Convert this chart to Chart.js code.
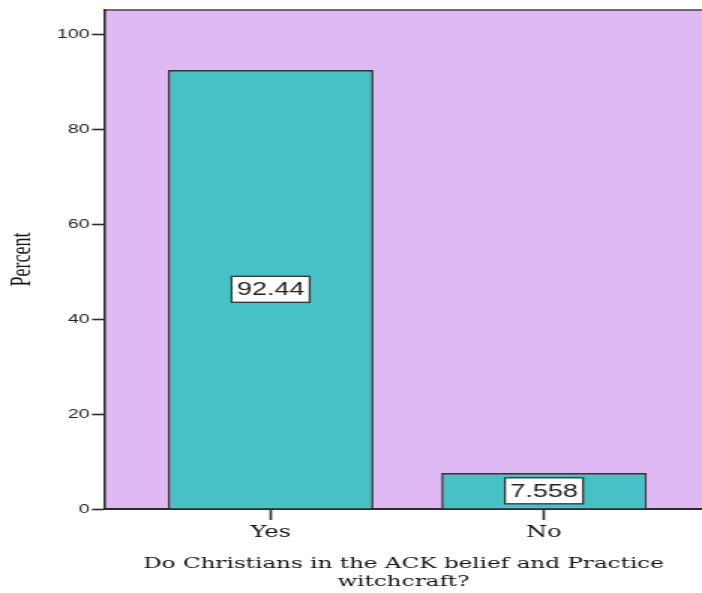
<!DOCTYPE html>
<html>
<head>
<meta charset="utf-8">
<script src="https://cdn.jsdelivr.net/npm/chart.js@4/dist/chart.umd.min.js"></script>
<style>
  html, body { margin: 0; padding: 0; background: #ffffff; overflow: hidden; }
  #wrap { width: 468px; height: 593px; transform: scaleX(1.5); transform-origin: 0 0; }
  canvas { display: block; }
</style>
</head>
<body>
<div id="wrap"><canvas id="c" width="468" height="593"></canvas></div>
<script>
// ---- data ----
const categories = ['Yes', 'No'];
const percents = [92.44, 7.558];
const yTickValues = [0, 20, 40, 60, 80, 100];
const xTitleLines = ['Do Christians in the ACK belief and Practice', 'witchcraft?'];
const yTitle = 'Percent';

// ---- styles ----
const PLOT_BG = '#DFB9F2';
const BAR_FILL = '#48C1C5';
const DARK = '#2b2b2b';

const plotFrame = {
  id: 'plotFrame',
  beforeDraw(chart) {
    const { ctx, chartArea: a } = chart;
    ctx.save();
    ctx.fillStyle = PLOT_BG;
    ctx.fillRect(a.left, a.top, a.right - a.left, a.bottom - a.top);
    ctx.strokeStyle = '#444';
    ctx.lineWidth = 1.5;
    ctx.beginPath();
    ctx.moveTo(a.left, a.top);
    ctx.lineTo(a.right, a.top);
    ctx.stroke();
    ctx.restore();
  }
};

const valueBoxes = {
  id: 'valueBoxes',
  afterDatasetsDraw(chart) {
    const { ctx } = chart;
    const meta = chart.getDatasetMeta(0);
    ctx.save();
    ctx.font = '18px "Liberation Sans", Arial, sans-serif';
    ctx.textAlign = 'center';
    ctx.textBaseline = 'middle';
    meta.data.forEach((bar, i) => {
      const { x, y, base } = bar.getProps(['x', 'y', 'base'], true);
      const cy = (y + base) / 2;
      const txt = String(percents[i]);
      const tw = ctx.measureText(txt).width;
      const w = tw + 7, h = 26;
      ctx.fillStyle = '#ffffff';
      ctx.fillRect(x - w / 2, cy - h / 2, w, h);
      ctx.strokeStyle = '#333';
      ctx.lineWidth = 1.3;
      ctx.strokeRect(x - w / 2, cy - h / 2, w, h);
      ctx.fillStyle = '#222';
      ctx.fillText(txt, x, cy + 1);
    });
    ctx.restore();
  }
};

new Chart(document.getElementById('c'), {
  type: 'bar',
  data: {
    datasets: [{
      data: percents.map((v, i) => ({ x: i, y: v })),
      backgroundColor: BAR_FILL,
      borderColor: '#333',
      borderWidth: 1.6,
      categoryPercentage: 1,
      barPercentage: 0.752
    }]
  },
  options: {
    responsive: false,
    devicePixelRatio: 1,
    animation: false,
    layout: { padding: { top: 10, left: 0, right: 0, bottom: 0 } },
    plugins: { legend: { display: false }, tooltip: { enabled: false } },
    scales: {
      x: {
        type: 'linear',
        offset: false,
        min: -0.606,
        max: 1.578,
        afterBuildTicks(scale) { scale.ticks = categories.map((c, i) => ({ value: i })); },
        afterFit(scale) { scale.height = 84; },
        ticks: {
          callback: (v) => categories[v],
          color: '#111',
          font: { family: '"DejaVu Serif", "Liberation Serif", serif', size: 16 },
          padding: 3,
          maxRotation: 0,
          autoSkip: false
        },
        grid: { offset: false, drawOnChartArea: false, drawTicks: true, tickLength: 11, tickColor: DARK, tickWidth: 1.6 },
        border: { display: true, color: DARK, width: 2 },
        title: {
          display: true,
          text: xTitleLines,
          color: '#111',
          font: { family: '"DejaVu Serif", "Liberation Serif", serif', size: 15.4, lineHeight: '18px' },
          padding: { top: 0, bottom: 2 }
        }
      },
      y: {
        type: 'linear',
        min: 0,
        max: 105.1,
        afterBuildTicks(scale) { scale.ticks = yTickValues.map(v => ({ value: v })); },
        afterFit(scale) { scale.width = 70; },
        ticks: {
          color: '#222',
          font: { family: '"Liberation Sans", Arial, sans-serif', size: 13 },
          padding: 1.6
        },
        grid: { drawOnChartArea: false, drawTicks: true, tickLength: 8.7, tickColor: DARK, tickWidth: 1.6 },
        border: { display: true, color: DARK, width: 1.6 },
        title: {
          display: true,
          text: yTitle,
          color: '#111',
          font: { family: '"Liberation Serif", "Times New Roman", serif', size: 18 },
          padding: { top: 4, bottom: 0 }
        }
      }
    }
  },
  plugins: [plotFrame, valueBoxes]
});
</script>
</body>
</html>
